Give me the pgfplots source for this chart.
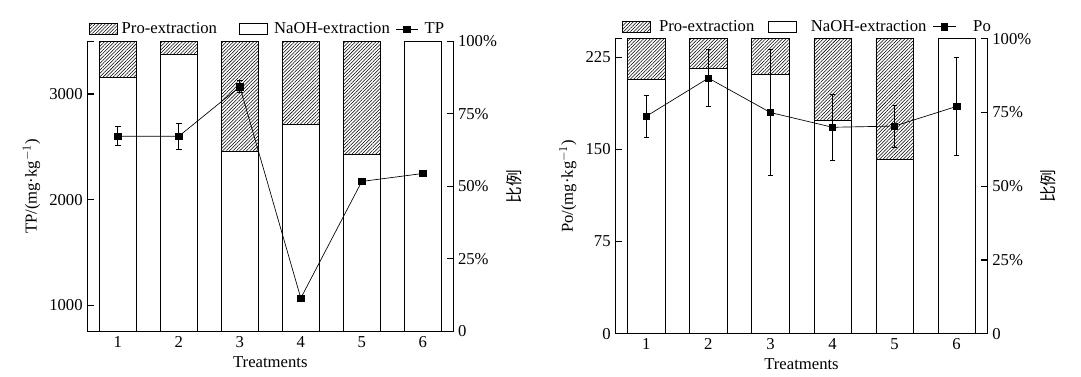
\documentclass[border=0pt]{standalone}
\usepackage{fontspec}
\setmainfont{Liberation Serif}
\newfontfamily\cjk{Noto Sans CJK SC}
\usepackage{pgfplots}
\pgfplotsset{compat=1.18}
\usetikzlibrary{patterns.meta}
\pgfplotsset{
  base/.style={scale only axis, xmin=0.5, xmax=6.5,
    axis line style={line width=0.8pt}, tick style={black, line width=0.8pt},
    major tick length=5pt, tick align=inside,
    /pgf/number format/assume math mode=true,
    /pgf/number format/set thousands separator={}},
  pctaxis/.style={base, ymin=0, ymax=100, axis y line*=right, axis x line=none,
    ytick={0,25,50,75,100}, yticklabels={0,25\%,50\%,75\%,100\%},
    ylabel={\cjk 比例}, ybar stacked, bar width=0.6},
  hatch/.style={draw=black, line width=0.6pt, pattern={Lines[angle=45,distance=1.8pt,line width=0.4pt]}},
  white/.style={draw=black, fill=white, line width=0.6pt},
  valaxis/.style={base, axis y line*=left, axis x line*=bottom,
    xtick={1,2,3,4,5,6}, xtick style={draw=none}, xlabel={Treatments},
    legend style={draw=none, fill=none, at={(0,1)}, anchor=south west, yshift=0pt, xshift=-2pt,
      legend columns=3, nodes={inner xsep=1pt},
      /tikz/every odd column/.append style={column sep=0pt}},
    },
  serie/.style={black, line width=0.5pt, mark=square*, mark size=2.4pt,
    error bars/.cd, y dir=both, y explicit,
    error bar style={line width=0.6pt},
    error mark options={rotate=90, mark size=2.1pt, line width=0.6pt}},
}
\begin{document}
\begin{tikzpicture}[font=\fontsize{12.5}{15}\selectfont]
\path[use as bounding box] (-65.5pt,-34.1pt) rectangle (745.3pt,248.65pt);
% ---------- left chart ----------
\begin{axis}[pctaxis, at={(0pt,0pt)}, anchor=south west, width=274.5pt, height=217.7pt]
\addplot[white] coordinates {(1,87.5) (2,95.4) (3,62.2) (4,71.4) (5,61.1) (6,100)};
\addplot[hatch] coordinates {(1,12.5) (2,4.6) (3,37.8) (4,28.6) (5,38.9) (6,0)};
\end{axis}
\begin{axis}[valaxis, at={(0pt,0pt)}, anchor=south west, width=274.5pt, height=217.7pt,
  ymin=750, ymax=3500, ytick={1000,2000,3000}, extra y ticks={3500}, extra y tick labels={},
  ylabel={TP/(mg·kg$^{-1}$)}]
\addlegendimage{legend image code/.code={\draw[draw=black, line width=0.6pt, pattern={Lines[angle=45,distance=1.8pt,line width=0.4pt]}] (0pt,-4pt) rectangle (21pt,4pt);}}
\addlegendentry{\makebox[88.75pt][l]{\hspace{2pt}Pro-extraction}}
\addlegendimage{legend image code/.code={\draw[draw=black, fill=white, line width=0.6pt] (0pt,-4pt) rectangle (21pt,4pt);}}
\addlegendentry{\makebox[93.75pt][l]{\hspace{4pt}NaOH-extraction}}
\addplot[serie] table[x=x, y=y, y error=e] {
x y e
1 2600 90
2 2600 125
3 3070 58
4 1066 0
5 2172 0
6 2247 0
};
\addlegendentry{\hspace{3.5pt}TP}
\end{axis}
% ---------- right chart ----------
\begin{axis}[pctaxis, at={(396pt,-1.7pt)}, anchor=south west, width=279.3pt, height=221.25pt]
\addplot[white] coordinates {(1,86.1) (2,89.8) (3,87.9) (4,72.5) (5,59.2) (6,100)};
\addplot[hatch] coordinates {(1,13.9) (2,10.2) (3,12.1) (4,27.5) (5,40.8) (6,0)};
\end{axis}
\begin{axis}[valaxis, at={(396pt,-1.7pt)}, anchor=south west, width=279.3pt, height=221.25pt,
  ymin=0, ymax=240, ytick={0,75,150,225}, extra y ticks={240}, extra y tick labels={},
  ylabel={Po/(mg·kg$^{-1}$)}, legend style={xshift=4pt}]
\addlegendimage{legend image code/.code={\draw[draw=black, line width=0.6pt, pattern={Lines[angle=45,distance=1.8pt,line width=0.4pt]}] (0pt,-4pt) rectangle (21pt,4pt);}}
\addlegendentry{\makebox[85.75pt][l]{\hspace{5pt}Pro-extraction}}
\addlegendimage{legend image code/.code={\draw[draw=black, fill=white, line width=0.6pt] (0pt,-4pt) rectangle (21pt,4pt);}}
\addlegendentry{\makebox[100pt][l]{\hspace{9.5pt}NaOH-extraction}}
\addplot[serie] table[x=x, y=y, y error=e] {
x y e
1 177 17
2 208 23
3 180 51
4 168 27
5 169 17
6 185 40
};
\addlegendentry{\hspace{11.75pt}Po}
\end{axis}
\end{tikzpicture}
\end{document}
